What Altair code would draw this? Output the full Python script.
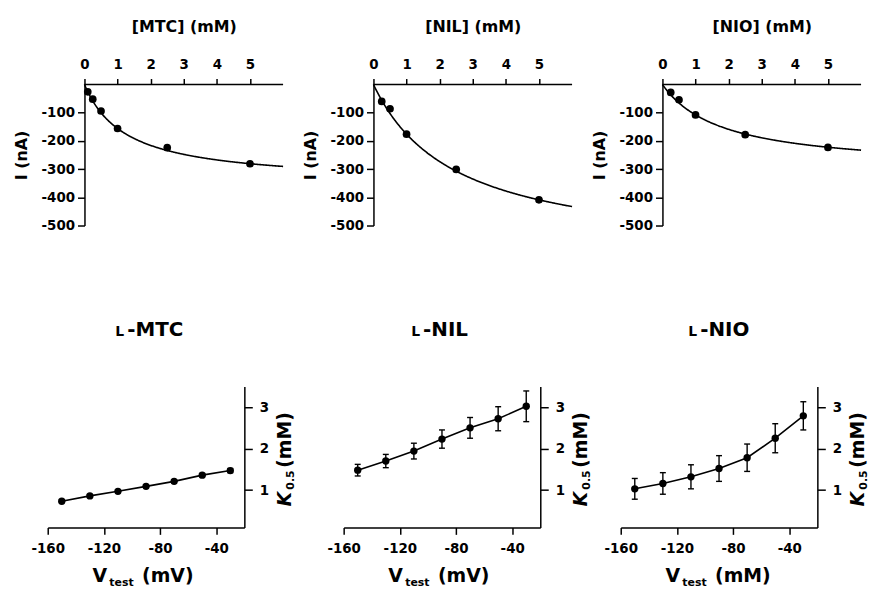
import altair as alt
import pandas as pd

FONT = "DejaVu Sans"

drugs = ["MTC", "NIL", "NIO"]
vtest_units = ["mV", "mV", "mM"]

# Top row: substrate concentration (mM) vs current (nA)
conc_mtc = [0.1, 0.25, 0.5, 1.0, 2.5, 5.0]
curr_mtc = [-26, -52, -94, -156, -224, -281]
conc_nil = [0.25, 0.5, 1.0, 2.5, 5.0]
curr_nil = [-60, -86, -176, -301, -409]
conc_nio = [0.25, 0.5, 1.0, 2.5, 5.0]
curr_nio = [-28, -54, -108, -178, -223]

# fitted hyperbola parameters [Imax (nA), K0.5 (mM)]
fit_mtc = [351, 1.25]
fit_nil = [611, 2.47]
fit_nio = [303, 1.81]

conc_axis = [0, 6]          # extent of the concentration axis (mM)
conc_ticks = [0, 1, 2, 3, 4, 5]
curr_axis = [-500, 0]
curr_ticks = [-100, -200, -300, -400, -500]

# Bottom row: test potential (mV) vs K0.5 (mM)
vtest = [-150, -130, -110, -90, -70, -50, -30]
k05_mtc = [0.73, 0.86, 0.97, 1.09, 1.21, 1.36, 1.47]
sem_mtc = [0.03, 0.03, 0.03, 0.03, 0.04, 0.04, 0.05]
k05_nil = [1.48, 1.70, 1.94, 2.23, 2.50, 2.72, 3.02]
sem_nil = [0.14, 0.16, 0.19, 0.22, 0.25, 0.29, 0.37]
k05_nio = [1.03, 1.16, 1.32, 1.52, 1.78, 2.25, 2.79]
sem_nio = [0.25, 0.26, 0.29, 0.31, 0.33, 0.35, 0.34]

vtest_axis = [-160, -20]
vtest_ticks = [-160, -120, -80, -40]
k05_axis = [0.1, 3.5]
k05_ticks = [1, 2, 3]

W, H = 200, 142
WB, HB = 198, 142
ONE = pd.DataFrame({"_": [0]})
HYPHEN = "replace(datum.label, '\u2212', '-')"


def axis_common(**kw):
    base = dict(grid=False, domainColor="black", tickColor="black",
                labelColor="black", titleColor="black", domainWidth=1.5,
                tickWidth=1.5, labelFont=FONT, labelFontSize=13.5,
                labelFontWeight="bold", titleFont=FONT, titleFontWeight="bold",
                labelFlush=False, labelExpr=HYPHEN)
    base.update(kw)
    return alt.Axis(**base)


def top_panel(drug, conc, curr, fit, shift):
    # the plot area starts `shift` px left of the current axis
    ppu = W / (conc_axis[1] - conc_axis[0])
    x_start = conc_axis[0] - shift / ppu
    pts = pd.DataFrame({"conc": conc, "curr": curr})
    xsc = alt.Scale(domain=[x_start, conc_axis[1]], nice=False, zero=False)
    ysc = alt.Scale(domain=curr_axis, nice=False)
    xax = axis_common(orient="top", values=conc_ticks, title=f"[{drug}] (mM)",
                      titleFontSize=16, tickSize=6, labelPadding=7, titlePadding=23,
                      domain=False, titleX=shift + W / 2)
    yax = axis_common(orient="left", values=curr_ticks, title="I (nA)",
                      titleFontSize=16, tickSize=7, labelPadding=3, titlePadding=12,
                      offset=-shift)
    imax, kd = fit
    curve = alt.Chart(alt.sequence(conc_axis[0], conc_axis[1] + 0.001, 0.02,
                                   as_="conc")).transform_calculate(
        curr=f"-{imax} * datum.conc / ({kd} + datum.conc)"
    ).mark_line(color="black", strokeWidth=1.6)
    dots = alt.Chart(pts).mark_circle(size=60, color="black", opacity=1)
    xline = alt.Chart(pd.DataFrame({"conc": [conc_axis[0]], "conc_end": [conc_axis[1]],
                                    "curr": [curr_axis[1]]})).mark_rule(
        color="black", strokeWidth=1.5).encode(x2="conc_end:Q")
    return alt.layer(xline, curve, dots).encode(
        x=alt.X("conc:Q", scale=xsc, axis=xax),
        y=alt.Y("curr:Q", scale=ysc, axis=yax),
    ).properties(width=W + shift, height=H)


def txt(text, x, y, size, **kw):
    return alt.Chart(ONE).mark_text(
        text=text, font=FONT, fontSize=size, fontWeight="bold", color="black",
        baseline="alphabetic", **kw
    ).encode(x=alt.value(x), y=alt.value(y))


def bottom_panel(drug, unit, k05, sem, pad_left=0, pad_right=0):
    df = pd.DataFrame({
        "v": vtest,
        "k": k05,
        "lo": [a - b for a, b in zip(k05, sem)],
        "hi": [a + b for a, b in zip(k05, sem)],
    })
    xsc = alt.Scale(domain=vtest_axis, nice=False, zero=False)
    ysc = alt.Scale(domain=k05_axis, nice=False, zero=False)
    xax = axis_common(orient="bottom", values=vtest_ticks, title=None,
                      tickSize=7, labelPadding=7)
    yax = axis_common(orient="right", values=k05_ticks, title=None,
                      tickSize=8, labelPadding=7)
    X = alt.X("v:Q", scale=xsc, axis=xax)
    base = alt.Chart(df)
    line = base.mark_line(color="black", strokeWidth=1.6).encode(
        x=X, y=alt.Y("k:Q", scale=ysc, axis=yax))
    bars = base.mark_rule(color="black", strokeWidth=1.4).encode(
        x=X, y=alt.Y("lo:Q", scale=ysc, axis=yax), y2="hi:Q")
    cap_lo = base.mark_tick(orient="horizontal", size=6, thickness=1.4,
                            color="black", opacity=1).encode(
        x=X, y=alt.Y("lo:Q", scale=ysc, axis=yax))
    cap_hi = base.mark_tick(orient="horizontal", size=6, thickness=1.4,
                            color="black", opacity=1).encode(
        x=X, y=alt.Y("hi:Q", scale=ysc, axis=yax))
    dots = base.mark_circle(size=55, color="black", opacity=1).encode(
        x=X, y=alt.Y("k:Q", scale=ysc, axis=yax))
    layers = [line, bars, cap_lo, cap_hi, dots,
              # panel title  "L-XXX" with small-capital L
              txt("L", 77, -51, 14, align="right"),
              txt(f"-{drug}", 80, -51, 20, align="left"),
              # x title  V_test (unit)
              txt("V", 45, HB + 54.5, 19, align="left"),
              txt("test", 62, HB + 58.5, 11, align="left"),
              txt(f"({unit})", 95, HB + 54.5, 19, align="left"),
              # right y title  K0.5 (mM)
              txt("K", WB + 47, 121, 19, align="left", angle=270, fontStyle="italic"),
              txt("0.5", WB + 50, 104, 11, align="left", angle=270),
              txt("(mM)", WB + 47, 82, 19, align="left", angle=270),
              ]
    if pad_left:
        layers.append(alt.Chart(ONE).mark_text(text="-160", opacity=0, align="left",
                                               fontSize=13).encode(
            x=alt.value(-pad_left), y=alt.value(HB - 20)))
    if pad_right:
        layers.append(alt.Chart(ONE).mark_text(text="-160", opacity=0, align="right",
                                               fontSize=13).encode(
            x=alt.value(WB + pad_right), y=alt.value(HB + 12)))
    return alt.layer(*layers).properties(width=WB, height=HB)


top = alt.hconcat(
    top_panel(drugs[0], conc_mtc, curr_mtc, fit_mtc, shift=37),
    top_panel(drugs[1], conc_nil, curr_nil, fit_nil, shift=25),
    top_panel(drugs[2], conc_nio, curr_nio, fit_nio, shift=25),
    spacing=15,
)
bottom = alt.hconcat(
    bottom_panel(drugs[0], vtest_units[0], k05_mtc, sem_mtc, pad_left=35, pad_right=71),
    bottom_panel(drugs[1], vtest_units[1], k05_nil, sem_nil),
    bottom_panel(drugs[2], vtest_units[2], k05_nio, sem_nio),
    spacing=12,
)

chart = alt.vconcat(top, bottom, spacing=88).configure_view(
    stroke=None
).properties(
    background="white",
    padding={"left": 5, "top": 9, "right": 0, "bottom": 0},
)

chart.save("out.html", embed_options={"renderer": "svg", "actions": False})
